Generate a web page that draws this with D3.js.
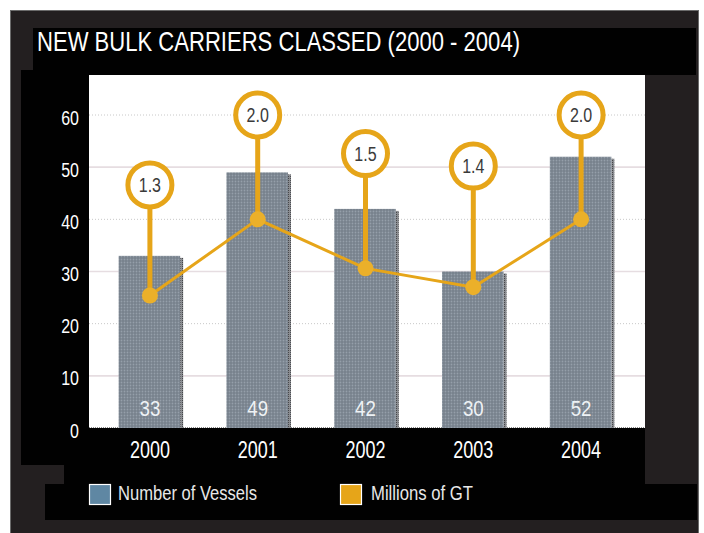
<!DOCTYPE html>
<html><head><meta charset="utf-8">
<script src="https://cdn.jsdelivr.net/npm/d3@7"></script>
<style>html,body{margin:0;padding:0;background:#fff;} svg{display:block}</style>
</head><body>
<svg id="chart" width="704" height="533"></svg>
<script>
const years = ["2000", "2001", "2002", "2003", "2004"];
const vessels = [33, 49, 42, 30, 52];
const gtValues = [1.27, 2.0, 1.53, 1.35, 2.0];
const gtLabels = ["1.3", "2.0", "1.5", "1.4", "2.0"];
const calloutLevels = [2.33, 3.0, 2.63, 2.51, 3.0];
const yTicks = [0, 10, 20, 30, 40, 50, 60];
const title = "NEW BULK CARRIERS CLASSED (2000 - 2004)";
const legendLabels = ["Number of Vessels", "Millions of GT"];

const svg = d3.select("#chart");
const FONT = "'Liberation Sans', Arial, sans-serif";
const GOLD = "#e6a519";
const BLUE = "#5f87a3";

const defs = svg.append("defs");
const pat = defs.append("pattern").attr("id", "halftone").attr("width", 3).attr("height", 3).attr("patternUnits", "userSpaceOnUse");
pat.append("rect").attr("width", 3).attr("height", 3).attr("fill", "#77818c");
pat.append("circle").attr("cx", 1.5).attr("cy", 1.5).attr("r", 0.9).attr("fill", "#959faa");
const spat = defs.append("pattern").attr("id", "shadow").attr("width", 2).attr("height", 2).attr("patternUnits", "userSpaceOnUse");
spat.append("rect").attr("width", 2).attr("height", 2).attr("fill", "#8a8c90");
spat.append("rect").attr("width", 1).attr("height", 1).attr("fill", "#45464a");

// frame & panels
svg.append("rect").attr("x", 10.5).attr("y", 10.5).attr("width", 688).attr("height", 524)
  .attr("fill", "#231f20").attr("stroke", "#6b6b6b").attr("stroke-width", 1);
svg.append("path").attr("d", "M33,28H696V75H645V484H697V520H45V484H64V465H21V70H33Z").attr("fill", "#010101");

const plot = { x0: 89, x1: 645, y0: 75, y1: 428 };
svg.append("rect").attr("x", plot.x0).attr("y", plot.y0).attr("width", plot.x1 - plot.x0).attr("height", plot.y1 - plot.y0).attr("fill", "#fff");

const x = d3.scaleBand().domain(years).range([96, 635]).paddingInner(0.42).paddingOuter(0.21);
const y = d3.scaleLinear().domain([0, 60]).range([428, 115]);
const y2 = d3.scaleLinear().domain([0, 3]).range([428, 115]);
const cx = d => x(d) + x.bandwidth() / 2;

function ctext(g, px, py, str, size, sx, anchor, fill) {
  return g.append("text")
    .attr("transform", `translate(${px},${py}) scale(${sx},1)`)
    .attr("text-anchor", anchor)
    .style("font-family", FONT).style("font-size", size + "px")
    .attr("fill", fill).text(str);
}

// title
svg.append("text").attr("x", 37).attr("y", 51)
  .style("font-family", FONT).style("font-size", "27.5px")
  .attr("fill", "#fff").attr("textLength", 483).attr("lengthAdjust", "spacingAndGlyphs")
  .text(title);

// gridlines
const grid = svg.append("g");
yTicks.filter(t => t > 0).forEach(t => {
  const dotted = t % 20 === 0;
  grid.append("line").attr("x1", plot.x0).attr("x2", plot.x1).attr("y1", y(t)).attr("y2", y(t))
    .attr("stroke", dotted ? "#c8c8c8" : "#e6dde1")
    .attr("stroke-width", dotted ? 1 : 1.6)
    .attr("stroke-dasharray", dotted ? "1,2" : null);
});
grid.append("line").attr("x1", plot.x0).attr("x2", plot.x1).attr("y1", y(0) - 0.5).attr("y2", y(0) - 0.5)
  .attr("stroke", "#8a8a8a").attr("stroke-width", 1).attr("stroke-dasharray", "1,1");

// y axis labels
const ya = svg.append("g");
yTicks.forEach(t => ctext(ya, 79, y(t) + 9.5, String(t), 19.5, 0.82, "end", "#fff"));

// bars
const bars = svg.append("g");
years.forEach((yr, i) => {
  const bx = x(yr), bw = x.bandwidth(), top = y(vessels[i]);
  bars.append("rect").attr("x", bx + bw - 1).attr("y", top + 2).attr("width", 3).attr("height", y(0) - top - 2).attr("fill", "url(#shadow)");
  bars.append("rect").attr("x", bx).attr("y", top).attr("width", bw - 1).attr("height", y(0) - top).attr("fill", "url(#halftone)");
  ctext(bars, cx(yr), 415.5, String(vessels[i]), 22, 0.85, "middle", "#eef2f5");
});

// x axis labels
const xa = svg.append("g");
years.forEach(yr => ctext(xa, cx(yr), 457.5, yr, 24, 0.75, "middle", "#fff"));

// GT line
const pts = years.map((yr, i) => [cx(yr), y2(gtValues[i])]);
svg.append("path").attr("d", d3.line()(pts)).attr("fill", "none").attr("stroke", GOLD).attr("stroke-width", 3);

// stems, dots, callouts
const co = svg.append("g");
years.forEach((yr, i) => {
  const px = cx(yr), py = y2(gtValues[i]), ly = y2(calloutLevels[i]);
  co.append("line").attr("x1", px).attr("x2", px).attr("y1", py).attr("y2", ly).attr("stroke", GOLD).attr("stroke-width", 5);
  co.append("circle").attr("cx", px).attr("cy", py).attr("r", 8).attr("fill", "#ebb02a");
  co.append("circle").attr("cx", px).attr("cy", ly).attr("r", 22).attr("fill", "#fff").attr("stroke", GOLD).attr("stroke-width", 5);
  ctext(co, px, ly + 7, gtLabels[i], 20, 0.8, "middle", "#3a3a3a");
});

// legend
const lg = svg.append("g");
lg.append("rect").attr("x", 89.5).attr("y", 484.5).attr("width", 21).attr("height", 20).attr("fill", BLUE).attr("stroke", "#fff").attr("stroke-width", 1.2);
lg.append("text").attr("x", 118).attr("y", 500).style("font-family", FONT).style("font-size", "19.5px")
  .attr("fill", "#e8e8e8").attr("textLength", 139).attr("lengthAdjust", "spacingAndGlyphs").text(legendLabels[0]);
lg.append("rect").attr("x", 340.5).attr("y", 484.5).attr("width", 21).attr("height", 20).attr("fill", GOLD).attr("stroke", "#fff").attr("stroke-width", 1.2);
lg.append("text").attr("x", 371).attr("y", 500).style("font-family", FONT).style("font-size", "19.5px")
  .attr("fill", "#e8e8e8").attr("textLength", 102).attr("lengthAdjust", "spacingAndGlyphs").text(legendLabels[1]);
</script>
</body></html>
